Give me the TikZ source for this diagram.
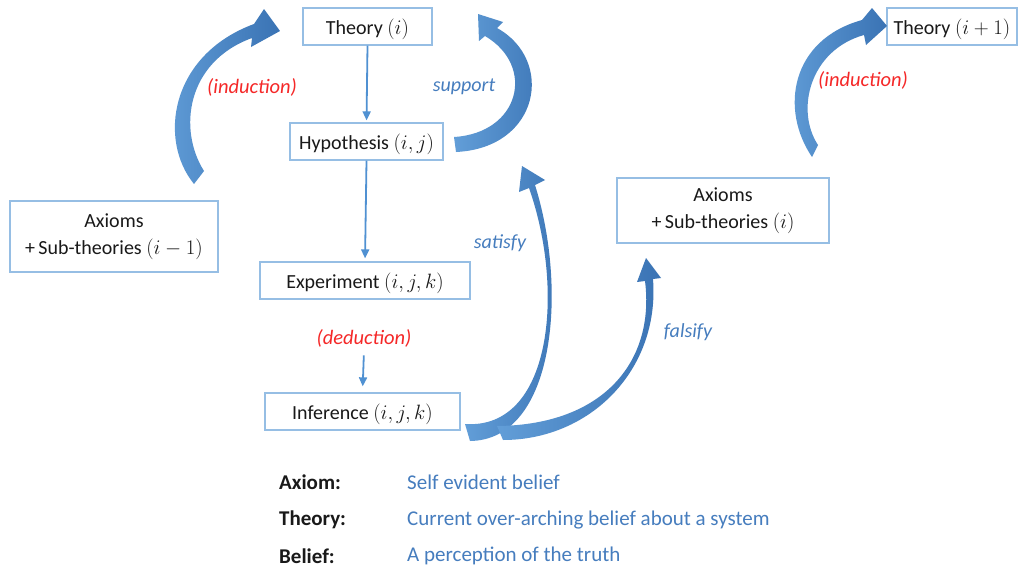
\documentclass[tikz,border=0pt]{standalone}
\usepackage{fontspec}
\setmainfont{Carlito}
\usetikzlibrary{arrows.meta}
\definecolor{boxline}{RGB}{150,190,228}
\definecolor{thinblue}{RGB}{80,145,210}
\definecolor{arrL}{RGB}{98,158,216}
\definecolor{arrD}{RGB}{58,115,180}
\definecolor{lblblue}{RGB}{70,125,190}
\definecolor{lblred}{RGB}{245,40,40}
\definecolor{txt}{RGB}{25,25,25}
\tikzset{
  box/.style={draw=boxline, line width=1.3pt, fill=white, text=txt, inner sep=0pt, align=center,
    font=\fontsize{20}{27}\selectfont},
  onebox/.style={box, text height=19pt, text depth=3pt},
  thin/.style={draw=thinblue, line width=1.8pt, -{Triangle[width=8pt,length=9pt]}},
  bigarrow/.style={left color=arrL, right color=arrD, draw=none},
  redlbl/.style={text=lblred, font=\fontsize{20.5}{24}\selectfont\itshape},
  bluelbl/.style={text=lblblue, font=\fontsize{20}{24}\selectfont\itshape},
  legkey/.style={anchor=west, inner sep=0pt, text=txt, font=\fontsize{21}{24}\selectfont\bfseries},
  legval/.style={anchor=west, inner sep=0pt, text=lblblue, font=\fontsize{21}{24}\selectfont},
}
\begin{document}
\begin{tikzpicture}[x=1pt, y=-1pt]
\useasboundingbox (0,0) rectangle (1023,570);
\fill[white] (0,0) rectangle (1023,570);

% boxes
\node[onebox, minimum width=129pt, minimum height=37pt] (th) at (367.5,26.5) {Theory $(i)$};
\node[onebox, minimum width=153pt, minimum height=37pt] (hy) at (366.5,141.5) {Hypothesis $(i,j)$};
\node[onebox, minimum width=210pt, minimum height=37pt] (ex) at (365,280.5) {Experiment $(i,j,k)$};
\node[onebox, minimum width=195pt, minimum height=37pt] (inf) at (362.5,411.5) {Inference $(i,j,k)$};
\node[box, minimum width=208pt, minimum height=71pt] (axa) at (114,236.5) {Axioms\\+\,Sub-theories $(i-1)$};
\node[box, minimum width=212pt, minimum height=65pt] (axb) at (723,210.5) {Axioms\\+\,Sub-theories $(i)$};
\node[onebox, minimum width=130pt, minimum height=37pt] (thn) at (952,26.5) {Theory $(i+1)$};

% labels
\node[redlbl] (ind1) at (252,87) {(induction)};
\node[bluelbl] (sup) at (464,87) {support};
\node[bluelbl] (sat) at (500,243) {satisfy};
\node[bluelbl] (fal) at (688,332) {falsify};
\node[redlbl] (ded) at (364,338) {(deduction)};
\node[redlbl] (ind2) at (863,80) {(induction)};

% thin arrows
\draw[thin, shorten >=2pt] (th.south) -- (hy.north);
\draw[thin, shorten >=3pt] (hy.south) -- (ex.north);
\draw[thin, shorten <=5pt, shorten >=6pt] (ded.south) -- (inf.north);

% big curved arrows
% left induction
\shade[bigarrow] (194,184) .. controls (158,140) and (170,55) .. (254,24) -- (264,9) -- (280,31)
  -- (251,47) -- (252,38) .. controls (186,62) and (178,130) .. (204,171) -- cycle;
% support
\shade[bigarrow] (456,152) .. controls (540,148) and (555,60) .. (497,28) -- (503,22) -- (478,14)
  -- (479,41) -- (485,36) .. controls (536,66) and (520,133) .. (454,137) -- cycle;
% satisfy
\shade[bigarrow] (470,441) .. controls (555,440) and (568,290) .. (535,185) -- (545,180) -- (522,166)
  -- (519,192) -- (529,188) .. controls (565,290) and (552,430) .. (465,424) -- cycle;
% falsify
\shade[bigarrow] (503,440) .. controls (590,440) and (660,370) .. (653,279) -- (661,278) -- (646,258)
  -- (637,282) -- (645,281) .. controls (655,360) and (605,425) .. (497,426) -- cycle;
% right induction
\shade[bigarrow] (812,157) .. controls (780,110) and (790,40) .. (862,20) -- (872,8) -- (887,26)
  -- (866,45) -- (864,35) .. controls (810,50) and (795,110) .. (818,145) -- cycle;

% legend
\node[legkey] (k1) at (279,482) {Axiom:};
\node[legkey] (k2) at (279,520) {Theory:};
\node[legkey] (k3) at (279,556) {Belief:};
\node[legval] (v1) at (407,482) {Self evident belief};
\node[legval] (v2) at (407,520) {Current over-arching belief about a system};
\node[legval] (v3) at (407,556) {A perception of the truth};
\end{tikzpicture}
\end{document}
